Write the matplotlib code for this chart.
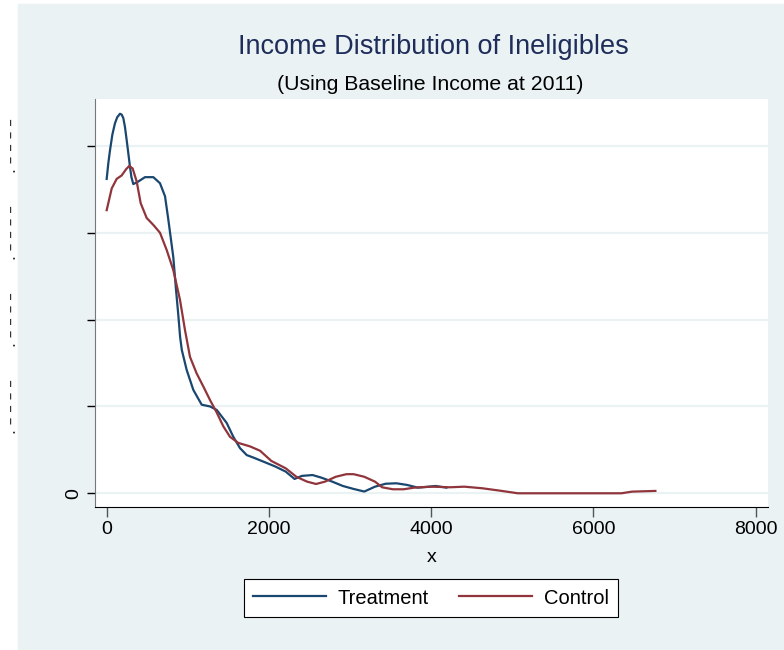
import matplotlib
matplotlib.use("Agg")
import matplotlib.pyplot as plt
from matplotlib.patches import Rectangle

# kernel density (density in units of 1e-4)
treat_x = [0, 20, 41, 70, 102, 130, 164, 185, 205, 225, 246, 266, 287, 305,
           328, 390, 472, 575, 657, 719, 760,
           821, 854, 883, 905, 926, 986, 1068, 1171, 1273, 1356, 1479, 1561,
           1643, 1726, 1811, 1943, 2074, 2206, 2316, 2405, 2537, 2646, 2778,
           2911, 3043, 3175, 3307, 3439, 3571, 3703, 3835, 3967, 4055, 4187]
treat_y = [3.62, 3.80, 3.95, 4.13, 4.26, 4.33, 4.37, 4.36, 4.32, 4.22, 4.07,
           3.92, 3.76, 3.64, 3.56, 3.59, 3.64, 3.64,
           3.57, 3.42, 3.15, 2.72, 2.35, 2.05, 1.80, 1.65, 1.42, 1.19, 1.02,
           1.00, 0.96, 0.81, 0.65, 0.52, 0.44, 0.41, 0.36, 0.31, 0.25, 0.165,
           0.20, 0.21, 0.18, 0.135, 0.084, 0.05, 0.02, 0.076, 0.11, 0.115,
           0.096, 0.065, 0.076, 0.084, 0.065]

ctrl_x = [0, 62, 123, 185, 238, 279, 320, 370, 419, 493, 575, 657, 740, 821,
          903, 965, 1027, 1109, 1191, 1273, 1356, 1438, 1520, 1622, 1766, 1890,
          2030, 2206, 2338, 2470, 2581, 2691, 2823, 2955, 3043, 3175, 3307,
          3395, 3527, 3659, 3791, 4011, 4231, 4408, 4627, 4848, 5068, 6344,
          6476, 6763]
ctrl_y = [3.26, 3.51, 3.62, 3.66, 3.73, 3.77, 3.74, 3.59, 3.34, 3.17, 3.09,
          3.00, 2.80, 2.57, 2.23, 1.88, 1.57, 1.38, 1.23, 1.075, 0.93, 0.77,
          0.65, 0.58, 0.54, 0.49, 0.372, 0.288, 0.19, 0.134, 0.107, 0.134,
          0.19, 0.22, 0.22, 0.19, 0.134, 0.069, 0.046, 0.046, 0.065, 0.076,
          0.069, 0.076, 0.058, 0.03, 0.0, 0.0, 0.019, 0.027]

x_ticks = [0, 2000, 4000, 6000, 8000]
y_ticks = [0, 1, 2, 3, 4]

BG = "#eaf2f3"
BLUE = "#1a476f"
RED = "#90353b"

plt.rcParams["font.family"] = ["Liberation Sans", "DejaVu Sans"]

fig = plt.figure(figsize=(7.84, 6.5), dpi=100, facecolor="white")
fig.patches.append(Rectangle((18 / 784, 0), 1 - 18 / 784, 1 - 4 / 650,
                             transform=fig.transFigure, color=BG, zorder=-10))

ax = fig.add_axes([95 / 784, 1 - 507 / 650, 673 / 784, 408 / 650])
ax.set_zorder(1)
ax.set_facecolor("white")

ax.plot(treat_x, treat_y, color=BLUE, lw=1.6, label="Treatment")
ax.plot(ctrl_x, ctrl_y, color=RED, lw=1.6, label="Control")

ax.set_xlim(-144, 8151)
ax.set_ylim(-0.158, 4.54)
ax.set_xticks(x_ticks)
ax.set_xticklabels([str(v) for v in x_ticks], fontsize=14)
ax.set_yticks(y_ticks)
ax.set_yticklabels(["0", "", "", "", ""], rotation=90, va="center", fontsize=14)
ax.grid(axis="y", color=BG, lw=1.6)
ax.set_axisbelow(True)

for s in ("top", "right"):
    ax.spines[s].set_visible(False)
ax.spines["left"].set_color("#777777")
ax.spines["bottom"].set_color("black")
ax.tick_params(axis="x", length=7, width=1, color="#555555", pad=3)
ax.tick_params(axis="y", length=6, width=1, color="black", pad=3)

ax.set_xlabel("x", fontsize=14, labelpad=8)

# garbled y tick labels outside the graph region
for t in y_ticks[1:]:
    yf = ax.transData.transform((0, t))[1] / fig.bbox.height
    fig.text(12 / 784, yf, ". \u2013 \u2013 \u2013 \u2013", rotation=90,
             ha="center", va="center", fontsize=11, color="#333333",
             family="DejaVu Sans")

fig.text(433 / 784, 1 - 47 / 650, "Income Distribution of Ineligibles",
         ha="center", va="center", fontsize=19.5, color="#1e2d5a")
fig.text(430 / 784, 1 - 84 / 650, "(Using Baseline Income at 2011)",
         ha="center", va="center", fontsize=15.3, color="black")

leg = fig.legend(loc="center", bbox_to_anchor=(431 / 784, 1 - 598 / 650),
                 ncol=2, fontsize=14.5, frameon=True, fancybox=False,
                 edgecolor="black", framealpha=1, handlelength=3.6,
                 handletextpad=0.6, columnspacing=1.5, borderpad=0.45)
leg.get_frame().set_linewidth(0.8)

fig.savefig("out.png", dpi=100, facecolor=fig.get_facecolor())
